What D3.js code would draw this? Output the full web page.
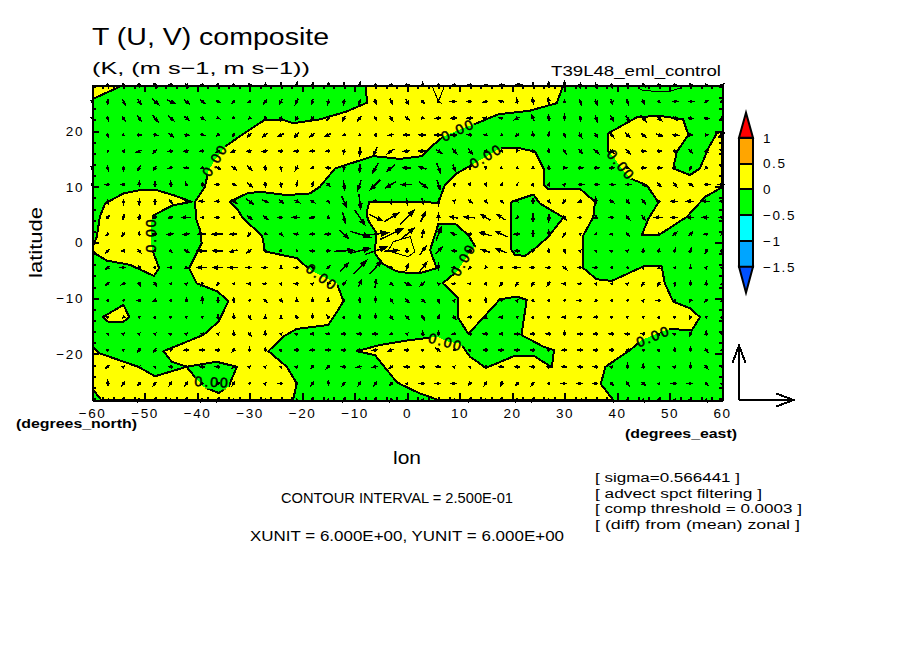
<!DOCTYPE html>
<html>
<head>
<meta charset="utf-8">
<script src="https://cdn.jsdelivr.net/npm/d3@7"></script>
<style>
  html, body { margin: 0; padding: 0; background: #fff; }
  svg { display: block; }
  text { font-family: "Liberation Sans", sans-serif; fill: #000; }
</style>
</head>
<body>
<svg id="chart" width="904" height="654"></svg>
<script>
// wind grid, top row first
var lons = d3.range(-60, 61, 3)
var lats = [28.26,25.3,22.3,19.3,16.4,13.4,10.4,7.4,4.5,1.5,-1.5,-4.5,-7.4,-10.4,-13.4,-16.4,-19.3,-22.3,-25.3,-28.26]

var uWind = [
  [0,.1,.2,.1,.4,.5,.3,.4,.3,.3,.4,.1,0,.1,.1,.1,0,.1,.4,.5,.4,0,0,-.4,-.4,.3,.6,.8,0,0,0,0,.1,.1,.2,.3,.4,.4,.4,.3,.3],
  [0,0,.3,.4,.7,.8,.6,.5,.5,-.3,-.2,-.3,-.3,-.3,-.1,-.1,-.1,-.2,.2,.3,.3,.3,.3,-.6,-.5,-.4,-.5,-.1,-.1,-.1,0,.2,.2,.2,.2,.2,.2,.5,.5,.4,.3],
  [0,.1,.3,.4,.6,.6,.5,.4,.2,.2,-.1,-.2,-.1,-.2,-.3,-.3,-.3,-.4,.2,.3,.4,.3,-.6,-.7,-.6,-.5,-.4,-.5,-.3,-.1,0,.1,.2,.3,.4,.6,.5,.4,.5,.5,.3],
  [0,.1,.1,.4,.5,.5,.5,.4,-.2,-.2,-.4,-.5,-.6,-.5,-.5,-.6,-.2,-.1,.2,-.5,-.7,-.8,-.8,-.7,-.5,-.4,-.1,-.3,-.1,.1,.2,.3,.3,.4,.5,.5,.7,.7,.4,.3,-.7],
  [0,.1,.2,-.5,-.4,-.5,-.5,-.4,-.3,-.5,-.5,-.6,-.5,-.5,-.5,-.4,-.1,0,-.4,-.7,-.7,-.9,.6,.5,.5,.3,.2,-.1,-.1,0,.3,.4,.5,.4,.5,.5,.5,.5,.4,.3,-.3],
  [0,.1,0,-.3,-.3,-.4,-.5,-.2,.5,.5,.5,.1,.1,-.3,-.3,-.5,-.1,0,-.6,-.9,-.9,-.8,.4,.3,0,0,.1,.1,0,0,.4,.5,.5,.5,.4,.5,.5,0,-.2,-.2,-.2],
  [.1,-.4,-.4,0,0,0,-.1,.1,-.5,.5,.6,.1,.1,.1,.1,.4,.15,-.35,-1.1,-1.1,-1.1,.9,.3,.1,.1,.1,.1,.1,.1,.1,.1,.5,.5,.5,.5,.5,.4,.4,.5,.5,-.6],
  [0,.1,0,0,0,.3,.1,-.6,-.5,.6,.8,.7,.5,.5,.4,.2,.5,.2,.5,0,.1,.2,0,.1,.4,.3,.3,.1,0,.3,-.3,-.4,-.1,.4,.4,.4,-.4,-.8,-.8,-.8,-.4],
  [0,.3,.1,.1,-.4,-.5,-.9,-.2,-.5,-.3,.5,.5,-.5,-.8,-.5,.1,.3,1.1,1.5,1.5,1.5,.5,0,-.9,-1.2,-1,-.9,-.2,0,0,.3,-.4,0,-.4,.4,.4,-.8,-.7,-.8,-.7,-.4],
  [0,-.3,-.3,0,-.5,-.7,-.7,-.9,-1.2,-.7,-.3,-.1,.3,-.5,-.5,-.6,.9,2.2,2.7,2.5,1.5,.2,.5,-.5,-.4,-1.3,-1.3,-.6,0,0,-.3,.1,.1,-.3,.3,.1,-.1,.4,.4,-.4,-.1],
  [0,-.4,-.4,.3,.1,.2,.5,-1,-1.1,-.8,-.5,.2,.1,.1,-.5,.4,2.1,2.2,2.4,1.5,0,.65,.7,-.5,-.4,-.9,-1.1,-.5,-.1,0,.2,.1,.1,.1,.1,.1,.1,.1,.1,-.2,.1],
  [0,-.4,-.5,.3,.1,-.3,.2,-1,-1,-1,-.5,-.5,0,-.4,-.2,.3,.9,1.4,1.3,.3,.2,.85,0,-.4,-.2,-.1,-.4,-.8,-.5,-.4,.4,-.4,-.4,.1,.1,.1,0,.1,0,.1,.1],
  [0,-.4,-.4,.2,.3,.1,.1,-.2,-.2,.1,-.4,-.4,.1,-.4,.1,.2,.3,.35,.1,.3,.7,-.5,-.1,-.4,-.3,.1,-.3,-.3,-.3,-.3,-.4,-.4,.1,.1,.1,-.3,-.3,0,0,0,0],
  [0,.1,.1,-.3,-.3,.1,0,0,0,0,.1,.3,.3,0,0,0,.1,0,0,.3,.4,.4,.1,.1,.1,0,.1,.1,.2,.1,.1,-.4,-.2,.1,.1,.1,-.4,.1,-.2,-.3,0],
  [0,.1,-.1,.1,.1,.1,.1,.1,0,0,.3,0,0,-.2,0,-.2,.1,0,0,.3,.4,.3,.1,.3,-.4,0,-.4,.1,.1,.1,-.4,-.4,-.4,.1,.1,.1,.1,.1,-.2,.1,.1],
  [0,.05,.1,.1,.1,.1,.1,.1,.1,0,.3,0,.1,.1,-.4,-.4,-.5,-.5,-.6,-.2,.1,0,0,-.4,-.4,-.5,-.4,-.5,-.5,-.5,0,-.5,-.5,-.5,-.5,-.4,.1,.1,-.2,0,.1],
  [0,.1,.1,-.3,-.3,-.1,-.5,-.5,-.5,-.3,0,0,.1,-.5,-.5,-.5,-.5,-.6,-.6,-.6,-.5,.1,-.5,0,.1,-.5,-.6,-.6,-.5,.1,-.5,-.5,-.5,-.5,-.3,-.1,.1,0,0,.3,0],
  [0,-.4,.1,.1,.1,-.4,-.5,-.5,-.5,-.3,.1,.1,.1,.1,-.3,-.3,-.5,-.6,-.6,-.4,-.6,-.5,-.5,.1,.1,-.5,-.5,-.5,-.5,.1,-.5,-.5,-.5,.1,0,0,.1,.1,0,.3,.1],
  [0,0,-.3,-.3,-.3,-.3,-.3,-.2,-.3,-.3,.1,.1,-.4,.1,-.3,0,-.3,-.3,-.3,-.3,.1,-.5,-.5,-.5,-.3,-.3,-.2,-.3,-.3,.1,-.5,-.5,-.5,.3,.3,.4,.1,-.5,-.5,.3,.1],
  [0,.1,-.2,-.2,-.3,-.2,-.2,-.2,-.2,-.2,0,0,-.2,0,-.2,0,-.2,-.2,-.2,-.2,-.2,-.3,-.3,-.2,-.2,-.2,-.2,-.2,-.2,0,-.3,-.3,-.3,.2,.2,.2,.2,-.3,-.3,.2,0]
]

var vWind = [
  [0,-.4,-.5,-.5,-.4,-.2,-.4,-.2,-.2,-.1,0,.4,.5,.5,.5,.5,.5,.5,-.1,-.1,0,.5,-.4,0,0,.1,0,.1,.5,.6,.7,-.6,-.6,-.5,-.4,-.3,-.1,0,0,-.1,.2],
  [-.2,-.5,-.6,-.6,-.6,-.3,-.5,-.4,-.2,-.3,-.1,-.5,-.6,-.6,-.5,-.6,-.6,-.6,-.5,-.6,-.6,-.4,-.2,0,0,-.1,.1,.5,.7,.8,.2,-.6,-.6,-.6,-.6,-.5,-.2,0,0,.2,.3],
  [-.1,-.4,-.5,-.6,-.7,-.5,-.4,-.3,-.1,-.1,-.1,-.3,-.5,-.4,-.4,-.4,-.5,-.5,-.4,-.5,-.3,-.1,0,0,0,.1,.1,-.3,.6,.6,.6,-.5,-.6,-.6,-.6,-.7,-.5,-.4,-.1,-.1,-.1],
  [0,-.4,-.1,0,-.1,-.4,-.1,-.1,-.2,-.3,-.4,-.4,-.3,-.5,-.4,-.3,-.1,-.1,-.3,-.1,0,0,0,0,.1,.1,-.1,-.3,.5,.5,-.5,-.5,-.5,-.5,-.5,-.4,-.2,-.1,0,0,-.5],
  [0,0,-.3,-.2,-.4,-.1,-.1,0,-.2,-.2,-.1,-.1,0,0,0,0,-.5,-.9,-.9,-.5,-.1,0,-.4,-.5,-.6,-.3,-.2,-.2,.2,.4,-.5,-.5,-.5,-.4,-.5,0,0,-.1,-.4,-.2,.2],
  [-.2,-.5,-.5,-.5,-.5,-.1,0,-.1,-.3,-.4,-.5,-.5,-.5,-.5,-.1,0,-.5,-.9,-1,-.7,0,.3,-1,-.7,-.3,-.2,-.1,-.1,.3,.4,0,0,0,0,-.2,0,0,.3,-.5,-.2,.2],
  [0,0,0,.6,.6,.6,.3,.4,0,-.2,-.5,-.5,-.5,.5,.5,-.4,-1.1,-1.1,-1.1,-.7,0,-.7,-1,-.3,-.2,-.2,.2,.2,.2,.2,.1,0,0,0,0,-.4,-.4,-.4,-.3,0,0],
  [0,-.5,-.6,-.7,-.6,-.4,-.2,0,0,-.4,-.6,-.3,-.4,-.3,-.3,-.3,-1.1,-1.6,-.1,-.6,-.7,-.7,-.7,-.3,-.3,-.3,-.3,-.1,.6,-.3,-.4,-.2,.7,-.3,-.4,-.5,0,0,0,0,0],
  [0,.3,.5,.5,-.1,-.1,0,0,0,0,-.4,-.4,0,0,-.1,.3,-1.1,-1.6,-.7,.9,1.5,1.1,.7,.2,.1,.6,.6,-.1,-.9,-.8,-.5,0,.4,0,-.4,-.5,0,0,0,0,0],
  [0,-.2,-.4,.4,0,-.1,-.1,0,0,0,-.4,-.1,-.3,.1,0,0,-.9,-.65,.3,1.2,1.3,.9,1.4,.2,0,.4,.6,0,.7,.7,-.5,.1,-.1,0,-.3,0,-.1,.4,.4,0,.4],
  [0,-.4,0,-.4,-.1,-.2,-.3,0,0,-.2,-.4,-.3,-.1,0,0,0,.1,.55,.85,.1,.5,.9,.7,0,.1,.3,.4,0,.1,.4,-.4,.1,.1,.1,.1,.4,.4,.4,.4,-.4,.4],
  [0,-.3,0,-.4,-.1,0,-.1,0,0,0,0,0,.3,0,.1,.3,.9,1.45,1.45,-.3,.7,1.1,.7,0,-.2,-.1,0,0,0,0,-.4,0,0,-.1,-.1,.1,.3,.1,.3,.1,.1],
  [0,-.3,-.2,-.4,-.4,.1,.1,-.3,-.3,.1,0,0,.1,0,.1,0,.4,.7,.9,-.3,-.3,-.4,.1,0,0,.2,-.4,-.4,-.4,-.4,0,0,.1,.1,.1,-.4,-.4,-.4,.4,.4,.1],
  [0,.1,.1,0,-.1,.1,.4,.7,.6,.5,.1,-.3,-.3,.4,.4,.4,.1,.5,.6,-.4,-.4,-.3,-.4,.1,.1,.5,.1,.1,-.2,.1,.1,0,-.2,.1,.1,.1,0,.1,-.3,-.3,.1],
  [0,.1,-.1,.1,.1,.1,.1,.1,.5,.5,-.4,.3,.3,.3,.5,.3,.1,.4,.5,-.4,-.4,-.5,.4,-.4,0,.3,0,.1,.1,.1,0,0,0,.1,.1,.1,.1,.1,-.3,.1,.1],
  [0,.05,.1,.1,.1,.1,.1,.1,.1,.5,-.4,.5,.1,.1,0,0,0,0,0,-.1,.1,.5,.5,-.1,0,0,0,0,0,0,.5,0,0,0,0,.1,.1,.1,-.4,.5,.1],
  [0,.1,.1,-.4,-.4,.1,0,0,0,-.3,.4,.4,.1,0,0,0,0,-.1,-.1,-.2,0,.1,.4,.1,.1,0,0,0,0,.1,0,0,0,0,-.3,.1,.1,.4,.5,-.4,.1],
  [0,-.3,.1,.1,.1,0,0,0,0,-.3,.1,.1,.1,.1,-.3,-.3,0,-.1,-.1,-.3,0,0,0,.1,.1,0,0,0,0,.1,0,0,0,.1,.5,.5,.1,.1,.5,-.4,.1],
  [0,.6,-.4,-.4,-.4,-.4,-.4,-.2,-.3,-.4,.1,.1,0,.1,-.4,.5,-.4,-.4,-.4,-.4,.1,0,0,0,-.3,-.4,-.5,-.4,-.4,.1,0,0,0,-.4,-.4,-.4,.1,0,0,-.3,.1],
  [0,.2,-.3,-.3,-.2,-.3,-.3,-.3,-.3,-.3,.2,.2,0,.2,-.3,.2,-.3,-.3,-.3,-.3,0,0,0,-.2,-.3,-.3,-.3,-.3,-.3,.2,0,0,0,-.3,-.3,-.3,-.1,0,0,-.3,0]
]

// zero contour, as [lon, lat]
var yellowAreas = [
  [[-60,25.7],[-54,28.26],[-60,28.26]],
  [[-7.9,28.26],[-7.6,25.1],[-11.5,23.5],[-16.6,22.1],[-21.7,21.4],[-23.6,22],[-27.1,22],[-30.5,19.9],[-34.4,17.4],[-36.6,14.8],[-37.8,12.9],[-38.5,10],[-40.4,7.3],[-40.1,4],[-39.4,2.2],[-39.1,-.15],[-39.9,-1.6],[-41.5,-4.6],[-40.1,-7.3],[-36.1,-8.8],[-34,-10.5],[-35.9,-14.2],[-38.8,-16.6],[-46.4,-19.5],[-44.8,-21.4],[-42,-22.3],[-48,-24],[-51.2,-22.3],[-58.5,-19.9],[-60,-18.6],[-60,-26.2],[-58.2,-28.26],[-21.7,-28.26],[-21,-25.3],[-22.9,-22.3],[-26.4,-19.5],[-23.6,-16.9],[-21,-15.5],[-15,-14.8],[-13.1,-12.1],[-12.1,-10.5],[-13.4,-7.3],[-18.5,-4.9],[-21,-2.8],[-27.1,-1.6],[-27.4,.45],[-27.7,1.3],[-31.2,4.3],[-32.4,6.1],[-33.7,7.3],[-30.5,8.8],[-28,9.1],[-22.9,8.5],[-18.5,8.8],[-16.6,10],[-13.7,13.3],[-6.4,15.5],[-1.3,15],[2.8,15.5],[5,17.5],[6.9,19],[10.1,20.3],[13.3,21.4],[17.4,23],[23.4,23.65],[28.5,25],[29.8,28.26]],
  [[-60,-1.3],[-59.7,-.45],[-59.1,1],[-58.5,4.6],[-57.5,7],[-54,8.8],[-50.9,9.4],[-47.7,9.4],[-44.5,8.5],[-41,7.3],[-44.5,6.7],[-48.3,4.9],[-48.8,3.3],[-48.8,1],[-48.6,-1.05],[-48.3,-1.9],[-47.2,-4.6],[-48.2,-6],[-52.8,-4],[-57.2,-3.25],[-59.2,-2.1]],
  [[-7.2,7.3],[-2.9,7.3],[6,7.15],[7.2,10.3],[9.5,12.4],[13,14.3],[15.3,15.5],[17.1,16.6],[18,16.9],[21.5,16.9],[24.4,16.3],[26,13.3],[26,10.3],[26.9,9.6],[33,9.6],[35.8,7.3],[35.5,4.6],[33.6,1.3],[33.6,-1.35],[33.6,-4.6],[36.1,-6.6],[39,-6.9],[45,-4.3],[48.5,-4.3],[49.1,-7.3],[50.7,-10.6],[53.9,-11.8],[55.8,-13.4],[54.2,-15.8],[50.4,-15.5],[48.8,-15.9],[44.7,-17.5],[42.5,-19.3],[37.8,-22.3],[36.9,-25.4],[39.3,-28.26],[6,-28.26],[2.5,-27.1],[-1.3,-25.4],[-2,-25],[-6.1,-20.2],[-9.6,-19.5],[-5.15,-18.4],[.6,-17.5],[2.5,-17.3],[5.65,-16.9],[7.9,-17.8],[9.8,-18.1],[10.7,-18.8],[12,-20.5],[15.05,-22.5],[20.6,-20.3],[24.1,-20.3],[27.6,-22.4],[28,-19.3],[26,-18.7],[21.8,-16.6],[22.8,-10.3],[20.9,-9.7],[17.7,-10.2],[11.7,-16.4],[9.8,-13.6],[9.8,-10],[6.8,-7.3],[9.5,-5.2],[11.05,-3.1],[12,-1.65],[13,-.75],[11.7,1.3],[9.15,3.4],[6,3.4],[4.4,-1.35],[5.65,-4.6],[2.5,-5.5],[-1.3,-5.35],[-2.6,-4.9],[-4.8,-3.7],[-6.1,-1.9],[-6.1,-1.35],[-5.8,1.65],[-7.4,4],[-7.7,5.2]],
  [[38.35,19.6],[43.75,22.45],[47.9,22.75],[52.6,22.1],[53.6,19.3],[51.4,16.3],[50.7,13.3],[53.9,12.1],[55.8,13.3],[57.4,16.9],[59,19.6],[60,19.9],[60,9.9],[56.8,8.2],[53.3,4.6],[47.9,1.3],[44.7,1.3],[46,4.3],[47.9,7.2],[45.65,10.3],[42.5,11.5],[40.9,13.3],[39.3,15.4],[38.35,16.4]],
  [[-58,-13.4],[-54,-11.2],[-52.9,-13.4],[-54,-14.2],[-56.9,-14.2]]
]

var greenAreas = [
  [[-42,-22.3],[-36.3,-21.4],[-32.4,-22.3],[-34,-25.9],[-35.9,-27],[-38.8,-25.9]],
  [[19.9,7.3],[24.1,8.6],[25.3,7],[29.8,4.5],[26.9,1],[24.4,-1.05],[22.5,-2.4],[20.6,-2.25],[19.9,-1.35]]
]

// weaker closed lines inside the yellow and green
var thinLines = [
  [[4.7,28.26],[6,25.3],[7.2,28.26]],
  [[44.4,27.4],[47.6,27.05],[49.8,27.05],[51.4,27.5],[53.3,28.26]],
  [[-3.6,-1.5],[-2.6,.15],[.6,1.05],[1.5,-1.65],[.25,-2.55],[-3.6,-1.5]]
]

var contourLabels = [
  {lon: -36.6, lat: 14.8, angle: -58},
  {lon: -48.8, lat: 1.35, angle: -90},
  {lon: 9.7, lat: 20.2, angle: -25},
  {lon: 15.05, lat: 15.5, angle: -30},
  {lon: 40.8, lat: 13.9, angle: 50},
  {lon: -16.2, lat: -6.2, angle: 37},
  {lon: -37.1, lat: -25, angle: 3},
  {lon: 10.7, lat: -3.1, angle: -60},
  {lon: 7.4, lat: -17.85, angle: 15},
  {lon: 46.9, lat: -16.8, angle: -22}
]

var levels = [-1.5, -1, -.5, 0, .5, 1]
var levelColors = ["#00a5ff", "#00ffff", "#00ff00", "#ffff00", "#ffa500"]
var noteLines = ["[ sigma=0.566441 ]", "[ advect spct filtering ]", "[ comp threshold = 0.0003 ]", "[ (diff) from (mean) zonal ]"]
var noteWidths = [145, 167, 207, 205]

var svg = d3.select("#chart")
var x = d3.scaleLinear().domain([-60, 60]).range([92, 722])
var y = d3.scaleLinear().domain([-28.26, 28.26]).range([400, 85])
var arrowLen = d3.scaleLinear().domain([0, 6]).range([0, 54.5])
var line = d3.line().x(function(d){ return x(d[0]) }).y(function(d){ return y(d[1]) })
var ringPath = function(d){ return line(d) + "Z" }

svg.append("defs").append("clipPath").attr("id", "plotClip")
  .append("rect").attr("x", x(-60)).attr("y", y(28.26)).attr("width", x(60) - x(-60)).attr("height", y(-28.26) - y(28.26))

// contour lines stop under their labels
var gapMask = svg.select("defs").append("mask").attr("id", "labelGaps").attr("maskUnits", "userSpaceOnUse")
  .attr("x", 0).attr("y", 0).attr("width", 904).attr("height", 654)
gapMask.append("rect").attr("width", 904).attr("height", 654).attr("fill", "white")
gapMask.selectAll("rect.gap").data(contourLabels).enter().append("rect")
  .attr("class", "gap").attr("x", -17).attr("y", -7).attr("width", 34).attr("height", 14).attr("fill", "black")
  .attr("transform", function(d){ return "translate(" + x(d.lon) + "," + y(d.lat) + ") rotate(" + d.angle + ")" })

var plot = svg.append("g").attr("clip-path", "url(#plotClip)")
plot.append("rect").attr("x", x(-60)).attr("y", y(28.26)).attr("width", x(60) - x(-60)).attr("height", y(-28.26) - y(28.26)).attr("fill", "#00ff00")
plot.selectAll("path.yellow").data(yellowAreas).enter().append("path").attr("class", "yellow")
  .attr("d", ringPath).attr("fill", "#ffff00").attr("shape-rendering", "crispEdges")
plot.selectAll("path.green").data(greenAreas).enter().append("path").attr("class", "green")
  .attr("d", ringPath).attr("fill", "#00ff00").attr("shape-rendering", "crispEdges")

var lines = plot.append("g").attr("mask", "url(#labelGaps)")
lines.selectAll("path.zero").data(yellowAreas.concat(greenAreas)).enter().append("path").attr("class", "zero")
  .attr("d", ringPath).attr("fill", "none").attr("stroke", "#000").attr("stroke-width", 2).attr("stroke-linejoin", "round")
  .attr("shape-rendering", "crispEdges")
lines.selectAll("path.thin").data(thinLines).enter().append("path").attr("class", "thin")
  .attr("d", line).attr("fill", "none").attr("stroke", "#000").attr("stroke-width", 1).attr("shape-rendering", "crispEdges")

svg.selectAll("text.clabel").data(contourLabels).enter().append("text").attr("class", "clabel")
  .attr("transform", function(d){ return "translate(" + x(d.lon) + "," + y(d.lat) + ") rotate(" + d.angle + ")" })
  .attr("text-anchor", "middle").attr("dy", "0.36em")
  .attr("stroke", "#000").attr("stroke-width", 0.5)
  .style("font-size", "14px").style("letter-spacing", "2px").text("0.00")

// wind arrows get a solid head; the small ones are nearly all head
function windPath(x0, y0, dx, dy) {
  var len = Math.sqrt(dx*dx + dy*dy)
  if (len == 0) return ""
  var ux = dx/len, uy = dy/len
  var sx = x0 - dx/2, sy = y0 - dy/2
  var tx = sx + dx, ty = sy + dy
  var back = Math.min(len, 1.5 + len*0.2), side = 0.6 + len*0.07
  return "M" + sx + "," + sy + "L" + tx + "," + ty
    + "M" + (tx - ux*back - uy*side) + "," + (ty - uy*back + ux*side)
    + "L" + tx + "," + ty
    + "L" + (tx - ux*back + uy*side) + "," + (ty - uy*back - ux*side) + "Z"
}

function unitPath(x0, y0, dx, dy) {
  var len = Math.sqrt(dx*dx + dy*dy)
  var ux = dx/len, uy = dy/len
  var tx = x0 + dx, ty = y0 + dy
  var back = len*0.32, side = len*0.12
  return "M" + x0 + "," + y0 + "L" + tx + "," + ty
    + "M" + (tx - ux*back - uy*side) + "," + (ty - uy*back + ux*side)
    + "L" + tx + "," + ty
    + "L" + (tx - ux*back + uy*side) + "," + (ty - uy*back - ux*side)
}

var winds = []
lats.forEach(function(lat, r){
  lons.forEach(function(lon, c){
    winds.push({lon: lon, lat: lat, u: uWind[r][c], v: vWind[r][c]})
  })
})

svg.append("g").selectAll("path").data(winds).enter().append("path")
  .attr("d", function(d){ return windPath(x(d.lon), y(d.lat), arrowLen(d.u), -arrowLen(d.v)) })
  .attr("fill", "#000").attr("stroke", "#000").attr("stroke-width", 1.5).attr("shape-rendering", "crispEdges")

// frame: long ticks every 10 degrees, short ones every 2
var xMajor = d3.range(-60, 61, 10), xMinor = d3.range(-60, 61, 2)
var yMajor = [-20, -10, 0, 10, 20], yMinor = d3.range(-28, 29, 2)
function styleAxis(g) {
  g.selectAll("line, path").attr("stroke", "#000").attr("stroke-width", 2).attr("shape-rendering", "crispEdges")
  g.selectAll("text").attr("fill", "#000").style("font-size", "13.5px").style("font-family", "Liberation Sans").style("letter-spacing", "1.6px")
}
function frameAxis(axis, scale, ticks, size, labelled, tx, ty) {
  var a = axis(scale).tickValues(ticks).tickSizeInner(-size).tickSizeOuter(0).tickPadding(labelled ? 8 : 0)
  if (!labelled) a.tickFormat("")
  svg.append("g").attr("transform", "translate(" + tx + "," + ty + ")").call(a).call(styleAxis)
}
frameAxis(d3.axisBottom, x, xMinor, 3.5, false, 0, 400)
frameAxis(d3.axisBottom, x, xMajor, 7, true, 0, 400)
frameAxis(d3.axisTop, x, xMinor, 3.5, false, 0, 85)
frameAxis(d3.axisTop, x, xMajor, 7, false, 0, 85)
frameAxis(d3.axisLeft, y, yMinor, 3.5, false, 92, 0)
frameAxis(d3.axisLeft, y, yMajor, 7, true, 92, 0)
frameAxis(d3.axisRight, y, yMinor, 3.5, false, 722, 0)
frameAxis(d3.axisRight, y, yMajor, 7, false, 722, 0)

// colour bar
var barY = d3.scaleLinear().domain([-1.5, 1]).range([266.7, 137.7])
var barX = 739, barW = 14
var bar = svg.append("g")
bar.selectAll("rect").data(levelColors).enter().append("rect")
  .attr("x", barX).attr("width", barW)
  .attr("y", function(d, i){ return barY(levels[i+1]) })
  .attr("height", function(d, i){ return barY(levels[i]) - barY(levels[i+1]) })
  .attr("fill", function(d){ return d })
  .attr("stroke", "#000").attr("stroke-width", 2).attr("shape-rendering", "crispEdges")
bar.append("path").attr("d", "M" + barX + "," + barY(1) + "L" + (barX + barW/2) + "," + (barY(1) - 25) + "L" + (barX + barW) + "," + barY(1) + "Z")
  .attr("fill", "#ff0000").attr("stroke", "#000").attr("stroke-width", 2)
bar.append("path").attr("d", "M" + barX + "," + barY(-1.5) + "L" + (barX + barW/2) + "," + (barY(-1.5) + 26) + "L" + (barX + barW) + "," + barY(-1.5) + "Z")
  .attr("fill", "#0050ff").attr("stroke", "#000").attr("stroke-width", 2)
bar.selectAll("text").data(levels).enter().append("text")
  .attr("x", 763).attr("y", function(d){ return barY(d) }).attr("dy", "0.36em")
  .style("font-size", "13.5px").style("letter-spacing", "1.6px")
  .text(function(d){ return d3.format("")(d) })

// reference arrows, XUNIT and YUNIT long
var unitArrows = [[6, 0], [0, 6]]
svg.append("g").selectAll("path").data(unitArrows).enter().append("path")
  .attr("d", function(d){ return unitPath(739, 400, arrowLen(d[0]), -arrowLen(d[1])) })
  .attr("fill", "none").attr("stroke", "#000").attr("stroke-width", 2).attr("shape-rendering", "crispEdges")

function addText(str, tx, ty, size, width, weight) {
  return svg.append("text").attr("x", tx).attr("y", ty).style("font-size", size + "px")
    .style("font-weight", weight || "normal")
    .attr("textLength", width).attr("lengthAdjust", "spacingAndGlyphs").text(str)
}
addText("T (U, V) composite", 92, 45, 23, 237)
addText("(K, (m s\u22121, m s\u22121))", 92, 74, 17, 218)
addText("T39L48_eml_control", 551, 76, 14, 170)
addText("(degrees_north)", 16, 428, 13, 121, "bold")
addText("(degrees_east)", 625, 438, 13, 112, "bold")
addText("lon", 393, 464, 19, 28)
addText("CONTOUR INTERVAL = 2.500E-01", 281, 503, 15, 232)
addText("XUNIT = 6.000E+00, YUNIT = 6.000E+00", 250, 541, 15, 314)
svg.append("text").attr("transform", "translate(42,278) rotate(-90)").style("font-size", "18px")
  .attr("textLength", 71).attr("lengthAdjust", "spacingAndGlyphs").text("latitude")

svg.append("g").selectAll("text").data(noteLines).enter().append("text")
  .attr("x", 595).attr("y", function(d, i){ return 482 + i*15.7 })
  .attr("textLength", function(d, i){ return noteWidths[i] }).attr("lengthAdjust", "spacingAndGlyphs")
  .style("font-size", "12.5px").text(function(d){ return d })
</script>
</body>
</html>
